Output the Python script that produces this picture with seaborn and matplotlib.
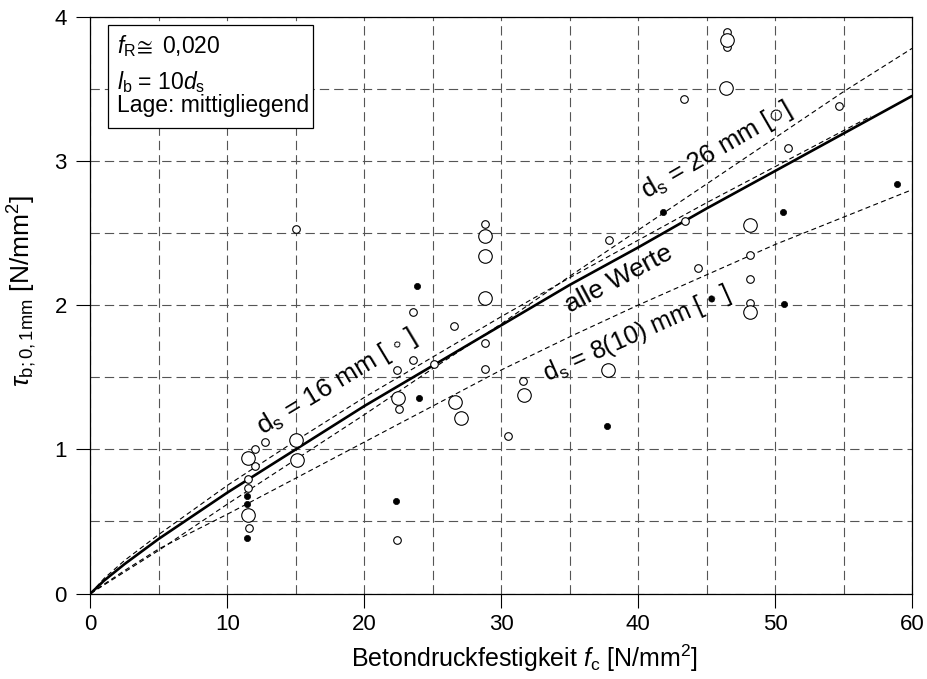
import matplotlib
matplotlib.use("Agg")
import matplotlib.pyplot as plt
import matplotlib.patches as mpatches
import seaborn as sns

# measured values, f_c and tau_b;0,1mm in N/mm2
small_fc = [11.98, 12.76, 12.02, 11.49, 11.54, 11.56, 15.0, 22.4, 23.55, 26.57,
            23.55, 22.38, 25.06, 22.5, 28.79, 28.79, 28.79, 31.6, 30.47, 46.5,
            46.5, 43.38, 54.7, 50.94, 43.4, 37.85, 48.14, 44.39, 48.14, 48.14]
small_tau = [1.0, 1.05, 0.886, 0.796, 0.73, 0.456, 2.53, 0.37, 1.95, 1.857,
             1.62, 1.55, 1.59, 1.28, 2.56, 1.74, 1.56, 1.476, 1.094, 3.896,
             3.788, 3.427, 3.38, 3.09, 2.585, 2.45, 2.347, 2.255, 2.181, 2.012]

big_fc = [11.49, 15.02, 15.07, 11.54, 22.45, 26.6, 27.06, 28.79, 28.79, 28.79,
          31.64, 37.8, 46.5, 46.45, 48.14, 48.2]
big_tau = [0.94, 1.065, 0.926, 0.544, 1.358, 1.326, 1.215, 2.48, 2.34, 2.05,
           1.377, 1.55, 3.838, 3.503, 2.555, 1.95]

full_fc = [11.44, 11.44, 11.42, 22.3, 23.84, 23.96, 37.73, 41.83, 50.57, 50.64, 58.88]
full_tau = [0.678, 0.62, 0.383, 0.64, 2.135, 1.354, 1.164, 2.643, 2.648, 2.005, 2.838]

# regression curves
curve_fc = [0, 1, 2.5, 5, 10, 15, 20, 25, 30, 35, 40, 45, 50, 55, 60]
alle_tau = [0, 0.09, 0.205, 0.38, 0.70, 1.00, 1.30, 1.58, 1.86, 2.14, 2.40, 2.67, 2.93, 3.19, 3.45]
d26_tau = [0, 0.06, 0.15, 0.30, 0.62, 0.93, 1.24, 1.56, 1.87, 2.20, 2.52, 2.84, 3.16, 3.48, 3.78]
d8_tau = [0, 0.065, 0.16, 0.31, 0.55, 0.80, 1.05, 1.30, 1.55, 1.78, 2.00, 2.21, 2.42, 2.61, 2.80]
d16_fc = [0, 1, 2.5, 5, 10, 15, 20, 25, 30, 35, 40, 45, 50, 55, 57]
d16_tau = [0, 0.105, 0.23, 0.41, 0.75, 1.06, 1.36, 1.64, 1.92, 2.19, 2.45, 2.71, 2.96, 3.21, 3.31]

sns.set_style("ticks")
plt.rcParams['font.family'] = ['Liberation Sans', 'DejaVu Sans']
plt.rcParams['mathtext.fontset'] = 'custom'
plt.rcParams['mathtext.rm'] = 'Liberation Sans'
plt.rcParams['mathtext.it'] = 'Liberation Sans:italic'
plt.rcParams['mathtext.bf'] = 'Liberation Sans:bold'
plt.rcParams['mathtext.fallback'] = 'stixsans'
for key in ['text.color', 'axes.labelcolor', 'xtick.color', 'ytick.color', 'axes.edgecolor']:
    plt.rcParams[key] = 'black'

fig = plt.figure(figsize=(9.27, 6.79), dpi=100)
ax = fig.add_axes([0.0976, 0.1259, 0.8862, 0.8495])

dash = (0, (4.5, 3))
sns.lineplot(x=curve_fc, y=alle_tau, ax=ax, color='black', lw=1.9, sort=False, estimator=None, zorder=3)
sns.lineplot(x=curve_fc, y=d26_tau, ax=ax, color='black', lw=0.8, linestyle=dash, sort=False, estimator=None, zorder=3)
sns.lineplot(x=curve_fc, y=d8_tau, ax=ax, color='black', lw=0.8, linestyle=dash, sort=False, estimator=None, zorder=3)
sns.lineplot(x=d16_fc, y=d16_tau, ax=ax, color='black', lw=0.8, linestyle=dash, sort=False, estimator=None, zorder=3)

sns.scatterplot(x=small_fc, y=small_tau, ax=ax, s=30, facecolor='white', edgecolor='black', linewidth=0.8, zorder=4)
sns.scatterplot(x=big_fc, y=big_tau, ax=ax, s=95, facecolor='white', edgecolor='black', linewidth=0.8, zorder=4)
sns.scatterplot(x=full_fc, y=full_tau, ax=ax, s=20, color='black', edgecolor='black', linewidth=0.5, zorder=4)

ax.set_xlim(0, 60)
ax.set_ylim(0, 4)
ax.set_xticks(range(0, 61, 10))
ax.set_xticks(range(5, 60, 10), minor=True)
ax.set_yticks(range(0, 5))
ax.set_yticks([0.5, 1.5, 2.5, 3.5], minor=True)
ax.grid(which='both', color='#555555', lw=0.8, linestyle=(0, (8.4, 4.5)))
ax.set_axisbelow(True)
ax.tick_params(which='major', direction='out', length=10, width=0.8, labelsize=16, color='black')
ax.tick_params(axis='x', pad=5)
ax.tick_params(axis='y', pad=7)
ax.tick_params(which='minor', length=0)
for sp in ax.spines.values():
    sp.set_visible(True)
    sp.set_color('black')
    sp.set_linewidth(0.9)

ax.set_xlabel(r"Betondruckfestigkeit $f_\mathrm{c}$ [N/mm$^2$]", fontsize=18)
ax.set_ylabel(r"$\tau_{\mathrm{b;0,1mm}}$ [N/mm$^2$]", fontsize=19)
ax.xaxis.set_label_coords(0.528, -0.085)
ax.yaxis.set_label_coords(-0.063, 0.525)

# curve labels
ax.text(18.0, 1.465, "d$_\\mathrm{s}$ = 16 mm [ \u25e6 ]", rotation=31, fontsize=19,
        ha='center', va='center', rotation_mode='anchor')
ax.text(45.7, 3.07, "d$_\\mathrm{s}$ = 26 mm [\u25cb]", rotation=30, fontsize=18.5,
        ha='center', va='center', rotation_mode='anchor')
ax.text(39.9, 1.80, "d$_\\mathrm{s}$ = 8(10) mm [ \u2022 ]", rotation=24, fontsize=18,
        ha='center', va='center', rotation_mode='anchor')
ax.text(38.6, 2.18, "alle Werte", rotation=28, fontsize=19,
        ha='center', va='center', rotation_mode='anchor')

# info box
ax.add_patch(mpatches.Rectangle((0.0217, 0.8065), 0.2495, 0.1791, transform=ax.transAxes,
                                facecolor='white', edgecolor='black', lw=0.9, zorder=5))
ax.text(0.0323, 0.937, "$f_\\mathrm{R}\\!\\cong$ 0,020", transform=ax.transAxes, fontsize=16.5, va='baseline', zorder=6)
ax.text(0.0323, 0.8747, "$l_\\mathrm{b}$ = 10$d_\\mathrm{s}$", transform=ax.transAxes, fontsize=16.5, va='baseline', zorder=6)
ax.text(0.0323, 0.8348, "Lage: mittigliegend", transform=ax.transAxes, fontsize=16.5, va='baseline', zorder=6)

fig.savefig("out.png", dpi=100)
